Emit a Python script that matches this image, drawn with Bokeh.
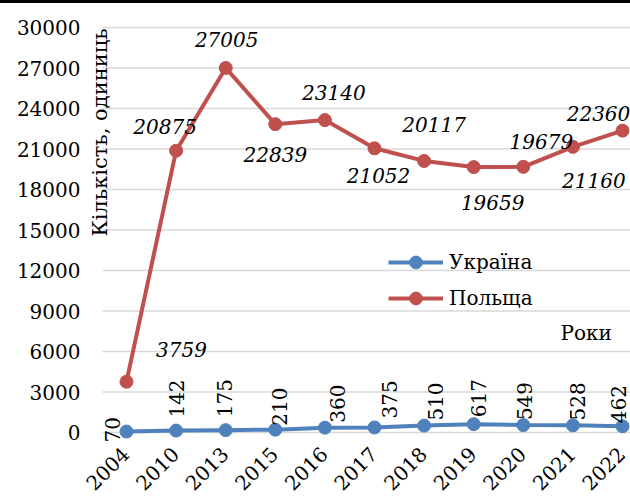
import math
from bokeh.plotting import figure
from bokeh.models import (ColumnDataSource, Range1d, FixedTicker, Label, LabelSet,
                          Legend, LegendItem)
from bokeh.core.properties import value
from bokeh.embed import file_html
from bokeh.resources import INLINE

# ---------------- data ----------------
years = ["2004", "2010", "2013", "2015", "2016", "2017", "2018", "2019", "2020", "2021", "2022"]
ukraine = [70, 142, 175, 210, 360, 375, 510, 617, 549, 528, 462]
poland = [3759, 20875, 27005, 22839, 23140, 21052, 20117, 19659, 19679, 21160, 22360]
y_ticks = [0, 3000, 6000, 9000, 12000, 15000, 18000, 21000, 24000, 27000, 30000]

# label placement (screen pixel offsets, style only)
pl_dx = [55, -11, 1, 0, 9, 4, 10, 19, 18, 21, -24]
pl_dy = [32, 24, 28, -30, 28, -27, 36, -35, 25, -34, 17]
ua_dx = [-14, 0, -1, 4, 13, 15, 11, 5, 1, 5, -4]
ua_dy = [-11, 13, 13, 4, 5, 9, 5, 7, 5, 5, 3]

FONT = "DejaVu Serif"
BLUE = "#4F81BD"
RED = "#C0504D"
FS = "20px"

x = list(range(len(years)))
X0, X1 = -0.8468, 10.161      # visible category range
GRID_X0 = -0.484              # gridlines start half a category left of the first year

p = figure(width=630, height=494, output_backend="svg", toolbar_location=None,
           x_axis_location=None,
           x_range=Range1d(X0, X1), y_range=Range1d(-4814.8, 31777.8),
           min_border_left=84, min_border_right=0, min_border_top=0, min_border_bottom=0,
           styles={"border-top": "3px solid black"})
p.outline_line_color = None
p.background_fill_color = "white"
p.border_fill_color = "white"
p.xgrid.grid_line_color = None
p.ygrid.grid_line_color = None

# horizontal gridlines at the value ticks
n = len(y_ticks)
p.segment(x0=[GRID_X0] * n, y0=y_ticks, x1=[X1 + 1] * n, y1=y_ticks,
          line_color="#d9d9d9", line_width=1.5)

# y axis
p.yaxis.ticker = FixedTicker(ticks=y_ticks)
p.yaxis.axis_line_color = None
p.yaxis.major_tick_line_color = None
p.yaxis.minor_tick_line_color = None
p.yaxis.major_tick_out = 0
p.yaxis.major_tick_in = 0
p.yaxis.major_label_standoff = 4
p.yaxis.major_label_text_font = FONT
p.yaxis.major_label_text_font_size = FS
p.yaxis.major_label_text_color = "black"

# category (year) labels, rotated 45 degrees below the zero line
yr_src = ColumnDataSource(dict(x=x, y=[0] * len(years), t=years))
p.add_layout(LabelSet(x="x", y="y", text="t", x_offset=-1, y_offset=-18, source=yr_src,
                      angle=math.pi / 4, text_align="right", text_baseline="middle",
                      text_font=value(FONT), text_font_size=FS, text_color="black"))

# series
ua_line = p.line(x, ukraine, line_color=BLUE, line_width=4)
ua_pts = p.scatter(x, ukraine, size=13, fill_color=BLUE, line_color=BLUE)
pl_line = p.line(x, poland, line_color=RED, line_width=4)
pl_pts = p.scatter(x, poland, size=13, fill_color=RED, line_color=RED)

# data labels
pl_src = ColumnDataSource(dict(x=x, y=poland, t=[str(v) for v in poland], dx=pl_dx, dy=pl_dy))
p.add_layout(LabelSet(x="x", y="y", text="t", x_offset="dx", y_offset="dy", source=pl_src,
                      text_align="center", text_baseline="middle",
                      text_font=value(FONT), text_font_style="italic",
                      text_font_size=FS, text_color="black"))

ua_src = ColumnDataSource(dict(x=x, y=ukraine, t=[str(v) for v in ukraine], dx=ua_dx, dy=ua_dy))
p.add_layout(LabelSet(x="x", y="y", text="t", x_offset="dx", y_offset="dy", source=ua_src,
                      angle=math.pi / 2, text_align="left", text_baseline="middle",
                      text_font=value(FONT), text_font_size=FS, text_color="black"))

# axis titles as free labels
p.add_layout(Label(x=15, y=365, x_units="screen", y_units="screen",
                   text="Кількість, одиниць", angle=math.pi / 2,
                   text_align="center", text_baseline="middle",
                   text_font=FONT, text_font_size="21px", text_color="black"))
p.add_layout(Label(x=476, y=165, x_units="screen", y_units="screen",
                   text="Роки", text_align="left", text_baseline="middle",
                   text_font=FONT, text_font_size=FS, text_color="black"))

# legend
legend = Legend(items=[LegendItem(label="Україна", renderers=[ua_line, ua_pts]),
                       LegendItem(label="Польща", renderers=[pl_line, pl_pts])],
                location=(304, 183), orientation="vertical",
                glyph_width=55, glyph_height=32, label_height=20, label_standoff=6,
                spacing=4, padding=0, margin=0,
                label_text_font=FONT, label_text_font_size=FS, label_text_color="black",
                background_fill_alpha=0, border_line_alpha=0)
p.add_layout(legend, "center")

open("out.html", "w").write(file_html(p, INLINE))
